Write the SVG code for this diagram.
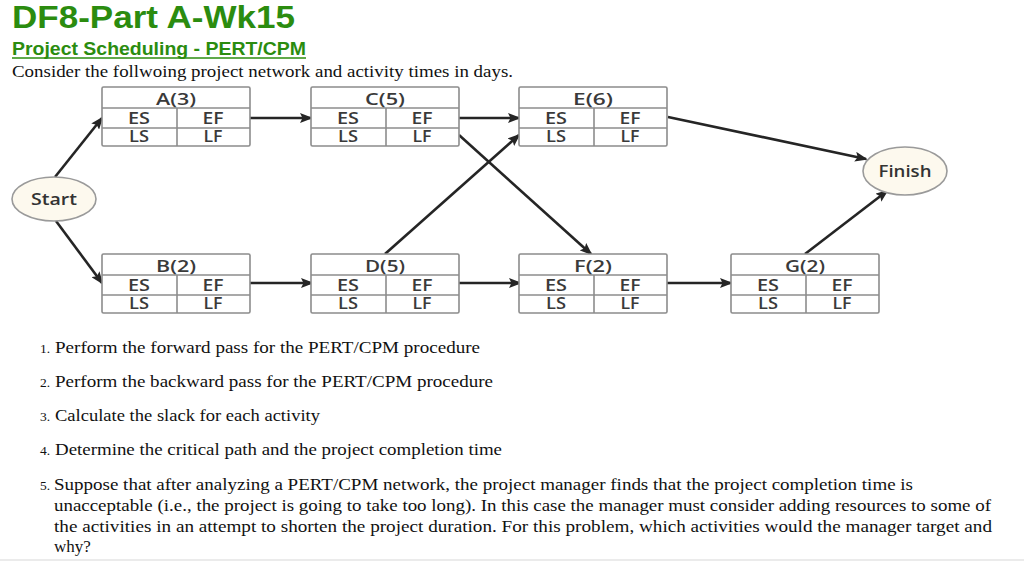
<svg xmlns="http://www.w3.org/2000/svg" width="1024" height="561" viewBox="0 0 1024 561">
<style>
.h1{font-family:"Liberation Sans",Arial,sans-serif;font-weight:bold;fill:#2b8c0f}
.ser{font-family:"Liberation Serif","Times New Roman",serif;font-size:17px;fill:#111}
.num{font-family:"Liberation Serif","Times New Roman",serif;font-size:13.5px;fill:#111}
.box{fill:#fff;stroke:#8c8c8c;stroke-width:1.6}
.div{stroke:#8c8c8c;stroke-width:1.6}
.bt{font-family:"Open Sans","Noto Sans",sans-serif;font-size:16px;font-weight:600;fill:#3a3a3a;text-anchor:middle}
.tt{font-family:"Open Sans","Noto Sans",sans-serif;font-size:16.5px;font-weight:600;fill:#3a3a3a;text-anchor:middle}
.el{fill:#fdf9ee;stroke:#9a9a9a;stroke-width:1.6}
.et{font-family:"Open Sans","Noto Sans",sans-serif;font-size:17px;font-weight:600;fill:#333;text-anchor:middle}
.c{stroke:#252525;stroke-width:2.6;fill:none;marker-end:url(#ah)}
</style>
<defs>
<marker id="ah" markerUnits="userSpaceOnUse" markerWidth="14" markerHeight="10" refX="11" refY="5" orient="auto">
<path d="M0,0 L13,5 L0,10 L2.5,5 z" fill="#252525"/>
</marker>
<g id="cell">
<rect class="box" x="0" y="0" width="148" height="59" rx="1.5"/>
<line class="div" x1="0" y1="21" x2="148" y2="21"/>
<line class="div" x1="0" y1="41" x2="148" y2="41"/>
<line class="div" x1="75" y1="21" x2="75" y2="59"/>
<text class="bt" x="37" y="36.5" textLength="22" lengthAdjust="spacingAndGlyphs">ES</text>
<text class="bt" x="111" y="36.5" textLength="21" lengthAdjust="spacingAndGlyphs">EF</text>
<text class="bt" x="37" y="55" textLength="20" lengthAdjust="spacingAndGlyphs">LS</text>
<text class="bt" x="111" y="55" textLength="19" lengthAdjust="spacingAndGlyphs">LF</text>
</g>
</defs>
<rect x="0" y="0" width="1024" height="561" fill="#fff"/>
<line x1="0" y1="560" x2="1024" y2="560" stroke="#e4e4e4" stroke-width="1.5"/>

<text class="h1" x="12" y="28" font-size="32" textLength="283" lengthAdjust="spacingAndGlyphs">DF8-Part A-Wk15</text>
<text class="h1" x="12" y="55" font-size="18" textLength="294" lengthAdjust="spacingAndGlyphs">Project Scheduling - PERT/CPM</text>
<line x1="12" y1="58" x2="306" y2="58" stroke="#2b8c0f" stroke-width="1.6"/>
<text class="ser" x="12" y="77" textLength="501" lengthAdjust="spacingAndGlyphs">Consider the follwoing project network and activity times in days.</text>

<g id="connectors">
<line class="c" x1="55" y1="177" x2="102" y2="118"/>
<line class="c" x1="56" y1="221" x2="102" y2="283"/>
<line class="c" x1="250" y1="118" x2="311" y2="118"/>
<line class="c" x1="459" y1="118" x2="519" y2="118"/>
<line class="c" x1="459" y1="135" x2="591" y2="254"/>
<line class="c" x1="385" y1="254" x2="519" y2="135"/>
<line class="c" x1="668" y1="117" x2="866" y2="159"/>
<line class="c" x1="805" y1="254" x2="887" y2="191"/>
<line class="c" x1="250" y1="283" x2="312" y2="283"/>
<line class="c" x1="459" y1="283" x2="520" y2="283"/>
<line class="c" x1="667" y1="283" x2="731" y2="283"/>
</g>

<g id="start"><ellipse class="el" cx="54" cy="199" rx="42" ry="22"/><text class="et" x="54" y="205" textLength="46" lengthAdjust="spacingAndGlyphs">Start</text></g>
<g id="finish"><ellipse class="el" cx="905" cy="171" rx="42" ry="24"/><text class="et" x="905" y="177" textLength="53" lengthAdjust="spacingAndGlyphs">Finish</text></g>

<g id="nodeA" transform="translate(102,87)"><use href="#cell"/><text class="tt" x="74" y="17.5" textLength="40" lengthAdjust="spacingAndGlyphs">A(3)</text></g>
<g id="nodeC" transform="translate(311,87)"><use href="#cell"/><text class="tt" x="74" y="17.5" textLength="40" lengthAdjust="spacingAndGlyphs">C(5)</text></g>
<g id="nodeE" transform="translate(519,87)"><use href="#cell"/><text class="tt" x="74" y="17.5" textLength="40" lengthAdjust="spacingAndGlyphs">E(6)</text></g>
<g id="nodeB" transform="translate(102,254)"><use href="#cell"/><text class="tt" x="74" y="17.5" textLength="40" lengthAdjust="spacingAndGlyphs">B(2)</text></g>
<g id="nodeD" transform="translate(311,254)"><use href="#cell"/><text class="tt" x="74" y="17.5" textLength="40" lengthAdjust="spacingAndGlyphs">D(5)</text></g>
<g id="nodeF" transform="translate(519,254)"><use href="#cell"/><text class="tt" x="74" y="17.5" textLength="38" lengthAdjust="spacingAndGlyphs">F(2)</text></g>
<g id="nodeG" transform="translate(731,254)"><use href="#cell"/><text class="tt" x="74" y="17.5" textLength="40" lengthAdjust="spacingAndGlyphs">G(2)</text></g>

<text class="num" x="40" y="353">1.</text>
<text class="ser" x="55" y="353" textLength="425" lengthAdjust="spacingAndGlyphs">Perform the forward pass for the PERT/CPM procedure</text>
<text class="num" x="40" y="387">2.</text>
<text class="ser" x="55" y="387" textLength="438" lengthAdjust="spacingAndGlyphs">Perform the backward pass for the PERT/CPM procedure</text>
<text class="num" x="40" y="421">3.</text>
<text class="ser" x="55" y="421" textLength="265" lengthAdjust="spacingAndGlyphs">Calculate the slack for each activity</text>
<text class="num" x="40" y="455">4.</text>
<text class="ser" x="55" y="455" textLength="447" lengthAdjust="spacingAndGlyphs">Determine the critical path and the project completion time</text>
<text class="num" x="40" y="490">5.</text>
<text class="ser" x="54" y="490" textLength="859" lengthAdjust="spacingAndGlyphs">Suppose that after analyzing a PERT/CPM network, the project manager finds that the project completion time is</text>
<text class="ser" x="54" y="511" textLength="937" lengthAdjust="spacingAndGlyphs">unacceptable (i.e., the project is going to take too long).  In this case the manager must consider adding resources to some of</text>
<text class="ser" x="54" y="532" textLength="938" lengthAdjust="spacingAndGlyphs">the activities in an attempt to shorten the project duration.  For this problem, which activities would the manager target and</text>
<text class="ser" x="54" y="552">why?</text>
</svg>
